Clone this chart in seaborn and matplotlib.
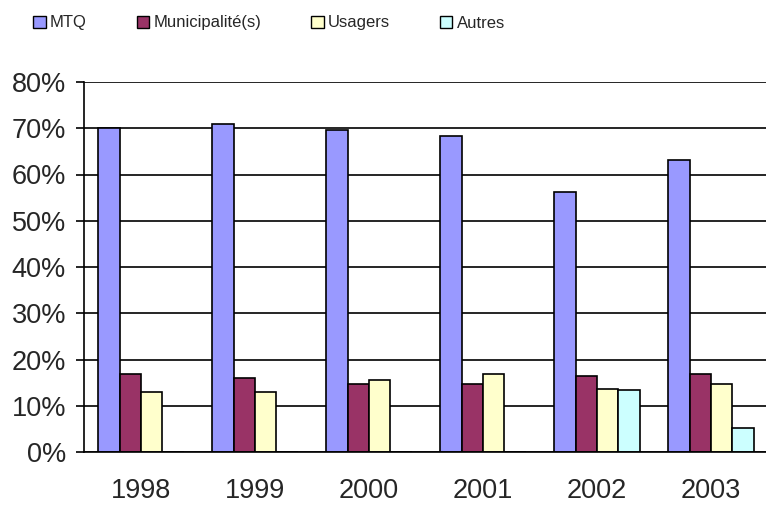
import matplotlib
matplotlib.use("Agg")
import matplotlib.pyplot as plt
import seaborn as sns
import pandas as pd
import numpy as np
from matplotlib.patches import Patch

years = ["1998", "1999", "2000", "2001", "2002", "2003"]
series = ["MTQ", "Municipalité(s)", "Usagers", "Autres"]
mtq = [70.0, 71.0, 69.6, 68.4, 56.2, 63.2]
municipalites = [16.8, 15.9, 14.7, 14.7, 16.4, 16.9]
usagers = [12.9, 12.9, 15.5, 16.8, 13.7, 14.7]
autres = [0.0, 0.0, 0.0, 0.0, 13.3, 5.1]
colors = ["#9999FF", "#993366", "#FFFFCC", "#CCFFFF"]
yticks = [0, 10, 20, 30, 40, 50, 60, 70, 80]

sns.set_theme(style="white")
plt.rcParams["font.family"] = ["Liberation Sans", "DejaVu Sans"]

rows = []
for s, vals in zip(series, [mtq, municipalites, usagers, autres]):
    for y, v in zip(years, vals):
        rows.append({"Année": y, "Source": s, "Valeur": v})
df = pd.DataFrame(rows)

fig = plt.figure(figsize=(7.66, 5.05), dpi=100)
ax = fig.add_axes([84/766, 1-452/505, 684/766, (452-82)/505])

sns.barplot(data=df, x="Année", y="Valeur", hue="Source", hue_order=series,
            palette=colors, width=0.75, gap=0, edgecolor="black", linewidth=1.2,
            saturation=1, legend=False, ax=ax, zorder=3)

ax.set_ylim(0, 80)
ax.set_xlim(-0.5, 5.5)
ax.set_yticks(yticks)
ax.set_yticklabels([f"{t}%" for t in yticks], fontsize=19.5)
ax.set_xticks(range(len(years)))
ax.set_xticklabels(years, fontsize=19.5)
ax.set_xticks(np.arange(-0.5, 6.0, 1.0), minor=True)
ax.tick_params(axis="x", which="major", length=0, pad=19)
ax.tick_params(axis="x", which="minor", length=6, width=1.2, color="black", direction="out")
ax.tick_params(axis="y", which="major", length=6, width=1.2, color="black", direction="out", pad=7, left=True)
ax.set_xlabel("")
ax.set_ylabel("")
ax.yaxis.grid(True, color="black", linewidth=1.2, zorder=0)
ax.set_axisbelow(True)
for side in ["top", "right"]:
    ax.spines[side].set_visible(False)
for side in ["left", "bottom"]:
    ax.spines[side].set_color("black")
    ax.spines[side].set_linewidth(1.2)
    ax.spines[side].set_zorder(5)

handles = [Patch(facecolor=c, edgecolor="black", linewidth=1.0, label=s) for s, c in zip(series, colors)]
fig.legend(handles=handles, loc="center left", bbox_to_anchor=(33/766, 1-23/505), ncol=4,
           frameon=False, prop={"family": "Liberation Sans", "size": 12},
           handlelength=0.75, handleheight=0.75, handletextpad=0.25, columnspacing=3.0,
           borderaxespad=0, borderpad=0)

fig.savefig("out.png", dpi=100)
